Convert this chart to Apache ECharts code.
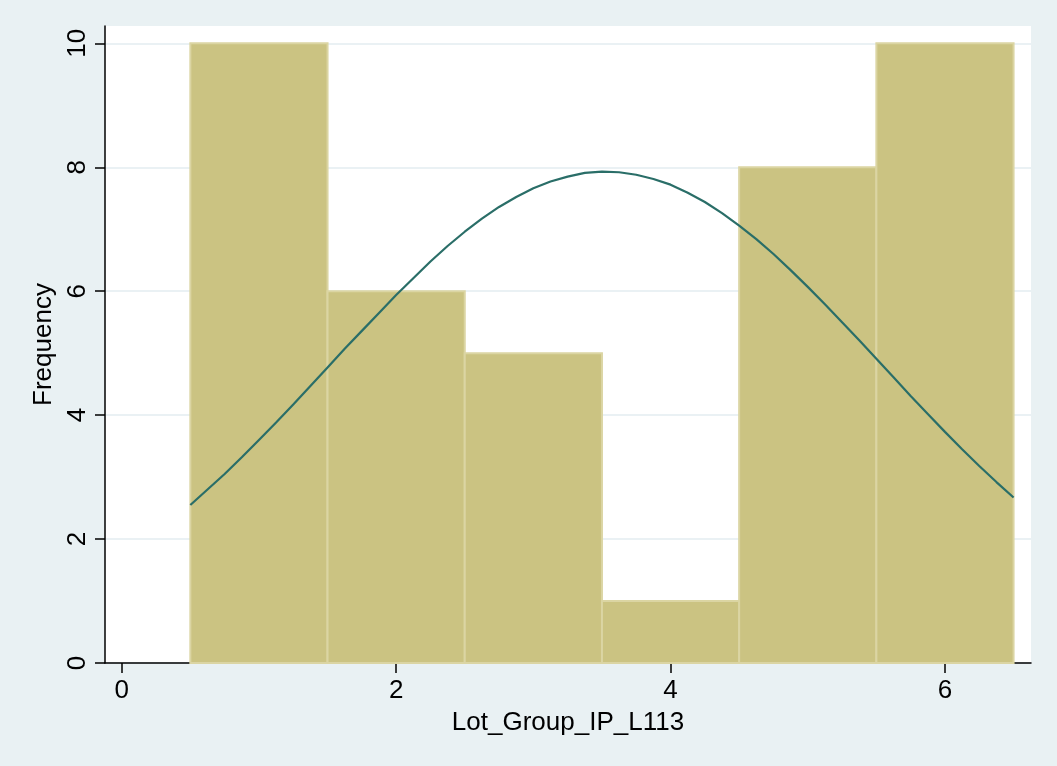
<!DOCTYPE html>
<html>
<head>
<meta charset="utf-8">
<script src="https://cdn.jsdelivr.net/npm/echarts@6/dist/echarts.min.js"></script>
<style>
  html, body { margin: 0; padding: 0; background: #e9f1f3; }
  #chart { width: 1057px; height: 766px; }
</style>
</head>
<body>
<div id="chart"></div>
<script>
var chartDom = document.getElementById('chart');
var myChart = echarts.init(chartDom);

// histogram bins (start, end) and counts
var binStart = [0.5, 1.5, 2.5, 3.5, 4.5, 5.5];
var binEnd = [1.5, 2.5, 3.5, 4.5, 5.5, 6.5];
var counts = [10, 6, 5, 1, 8, 10];

// normal curve
var curveX = [0.5, 0.625, 0.75, 0.875, 1.0, 1.125, 1.25, 1.375, 1.5, 1.625, 1.75, 1.875,
  2.0, 2.125, 2.25, 2.375, 2.5, 2.625, 2.75, 2.875, 3.0, 3.125, 3.25, 3.375, 3.5,
  3.625, 3.75, 3.875, 4.0, 4.125, 4.25, 4.375, 4.5, 4.625, 4.75, 4.875, 5.0,
  5.125, 5.25, 5.375, 5.5, 5.625, 5.75, 5.875, 6.0, 6.125, 6.25, 6.375, 6.5];
var curveY = [2.55, 2.80, 3.05, 3.32, 3.60, 3.88, 4.17, 4.47, 4.77, 5.07, 5.36, 5.65,
  5.94, 6.21, 6.48, 6.73, 6.96, 7.17, 7.36, 7.52, 7.66, 7.77, 7.85, 7.91, 7.93,
  7.92, 7.88, 7.81, 7.72, 7.59, 7.44, 7.26, 7.06, 6.84, 6.60, 6.34, 6.07,
  5.79, 5.50, 5.21, 4.91, 4.61, 4.31, 4.02, 3.73, 3.45, 3.18, 2.92, 2.67];

var xTicks = [0, 2, 4, 6];
var yTicks = [0, 2, 4, 6, 8, 10];

var barData = [];
for (let i = 0; i < counts.length; i++) {
  barData.push([binStart[i], binEnd[i], counts[i]]);
}
var lineData = [];
for (let i = 0; i < curveX.length; i++) {
  lineData.push([curveX[i], curveY[i]]);
}

var font = 'Liberation Sans, Arial, Helvetica, sans-serif';

var option = {
  backgroundColor: '#e9f1f3',
  animation: false,
  grid: {
    left: 105,
    right: 26,
    top: 26,
    bottom: 103,
    show: true,
    backgroundColor: '#ffffff',
    borderWidth: 0
  },
  xAxis: {
    type: 'value',
    min: -0.122,
    max: 6.627,
    interval: 2,
    name: 'Lot_Group_IP_L113',
    nameLocation: 'middle',
    nameGap: 47,
    nameTextStyle: { fontFamily: font, fontSize: 26, color: '#000' },
    axisLine: { show: true, onZero: false, lineStyle: { color: '#000', width: 1.5 } },
    axisTick: { show: true, length: 10, lineStyle: { color: '#000', width: 1.5 },
      customValues: xTicks },
    axisLabel: { fontFamily: font, fontSize: 26, color: '#000', margin: 15,
      customValues: xTicks },
    splitLine: { show: false }
  },
  yAxis: {
    type: 'value',
    min: 0,
    max: 10.28,
    interval: 2,
    name: 'Frequency',
    nameLocation: 'middle',
    nameGap: 48,
    nameTextStyle: { fontFamily: font, fontSize: 26, color: '#000' },
    axisLine: { show: true, onZero: false, lineStyle: { color: '#000', width: 1.5 } },
    axisTick: { show: true, length: 10, lineStyle: { color: '#000', width: 1.5 },
      customValues: yTicks },
    axisLabel: { fontFamily: font, fontSize: 26, color: '#000', rotate: 90, margin: 14,
      customValues: yTicks },
    splitLine: { show: true, lineStyle: { color: '#e3ecf0', width: 1.5 } }
  },
  series: [
    {
      type: 'custom',
      name: 'Histogram',
      renderItem: function (params, api) {
        var p0 = api.coord([api.value(0), api.value(2)]);
        var p1 = api.coord([api.value(1), 0]);
        return {
          type: 'rect',
          shape: { x: p0[0], y: p0[1], width: p1[0] - p0[0], height: p1[1] - p0[1] },
          style: { fill: '#cbc382', stroke: '#dbd5a3', lineWidth: 2 }
        };
      },
      encode: { x: [0, 1], y: 2 },
      data: barData,
      z: 2
    },
    {
      type: 'line',
      name: 'Normal',
      data: lineData,
      smooth: false,
      showSymbol: false,
      lineStyle: { color: '#2a6e68', width: 2.2 },
      z: 3
    }
  ]
};

option && myChart.setOption(option);
</script>
</body>
</html>
